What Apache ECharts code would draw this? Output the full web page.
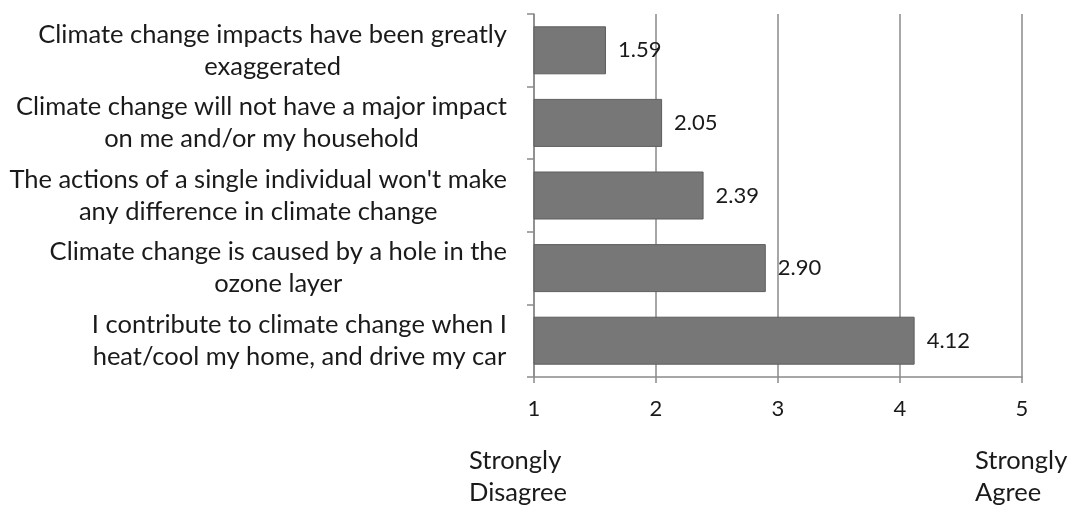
<!DOCTYPE html>
<html>
<head>
<meta charset="utf-8">
<script src="https://cdn.jsdelivr.net/npm/echarts@6/dist/echarts.min.js"></script>
<style>
  html, body { margin: 0; padding: 0; background: #ffffff; }
  #chart { width: 1070px; height: 508px; }
</style>
</head>
<body>
<div id="chart"></div>
<script>
// Survey statements (each shown on two lines) and their mean agreement scores
const statements = [
  ['Climate change impacts have been greatly', 'exaggerated'],
  ['Climate change will not have a major impact', 'on me and/or my household'],
  ["The actions of a single individual won't make", 'any difference in climate change'],
  ['Climate change is caused by a hole in the', 'ozone layer'],
  ['I contribute to climate change when I', 'heat/cool my home, and drive my car']
];
const meanScores = [1.59, 2.05, 2.39, 2.90, 4.12];
const scaleTicks = [1, 2, 3, 4, 5];
const scaleEnds = [['Strongly', 'Disagree'], ['Strongly', 'Agree']];

const FONT = 'Lato, "Open Sans", sans-serif';
const TEXT_SIZE = 25.5;
const NUM_SIZE = 22;
const TEXT = '#1a1a1a';
const LINE = '#8a8a8a';

const chart = echarts.init(document.getElementById('chart'), null, { renderer: 'canvas' });

const categories = statements.map(s => s.join('\n'));

chart.setOption({
  animation: false,
  backgroundColor: '#ffffff',
  grid: { left: 534, right: 48, top: 14, bottom: 131, containLabel: false },
  xAxis: {
    type: 'value',
    min: scaleTicks[0],
    max: scaleTicks[scaleTicks.length - 1],
    interval: 1,
    axisLine: { show: true, lineStyle: { color: LINE, width: 1.5 } },
    axisTick: { show: true, length: 6, lineStyle: { color: LINE, width: 1.5 } },
    splitLine: { show: true, lineStyle: { color: LINE, width: 1.5 } },
    axisLabel: {
      margin: 21,
      fontFamily: FONT, fontSize: NUM_SIZE, color: TEXT,
      formatter: v => String(v)
    }
  },
  yAxis: {
    type: 'category',
    inverse: true,
    data: categories,
    axisLine: { show: true, lineStyle: { color: LINE, width: 1.5 } },
    axisTick: { show: true, length: 7, lineStyle: { color: LINE, width: 1.5 } },
    axisLabel: {
      margin: 27,
      align: 'right',
      fontFamily: FONT, fontSize: TEXT_SIZE, color: TEXT, lineHeight: 32,
      formatter: v => v.split('\n').map(line => '{c|' + line + '}').join('\n'),
      rich: { c: { align: 'center', fontFamily: FONT, fontSize: TEXT_SIZE, color: TEXT, lineHeight: 32 } }
    }
  },
  series: [{
    type: 'bar',
    data: meanScores,
    barWidth: 48,
    clip: true,
    itemStyle: { color: '#777777', borderColor: '#5e5e5e', borderWidth: 1 },
    label: {
      show: true,
      position: 'right',
      distance: 12,
      fontFamily: FONT, fontSize: NUM_SIZE, color: TEXT,
      formatter: p => p.value.toFixed(2)
    }
  }],
  graphic: [
    {
      type: 'text', left: 469, top: 445,
      style: { text: scaleEnds[0].join('\n'), font: TEXT_SIZE + 'px ' + FONT, fill: TEXT, lineHeight: 32 }
    },
    {
      type: 'text', left: 975, top: 445,
      style: { text: scaleEnds[1].join('\n'), font: TEXT_SIZE + 'px ' + FONT, fill: TEXT, lineHeight: 32 }
    }
  ]
});
</script>
</body>
</html>
